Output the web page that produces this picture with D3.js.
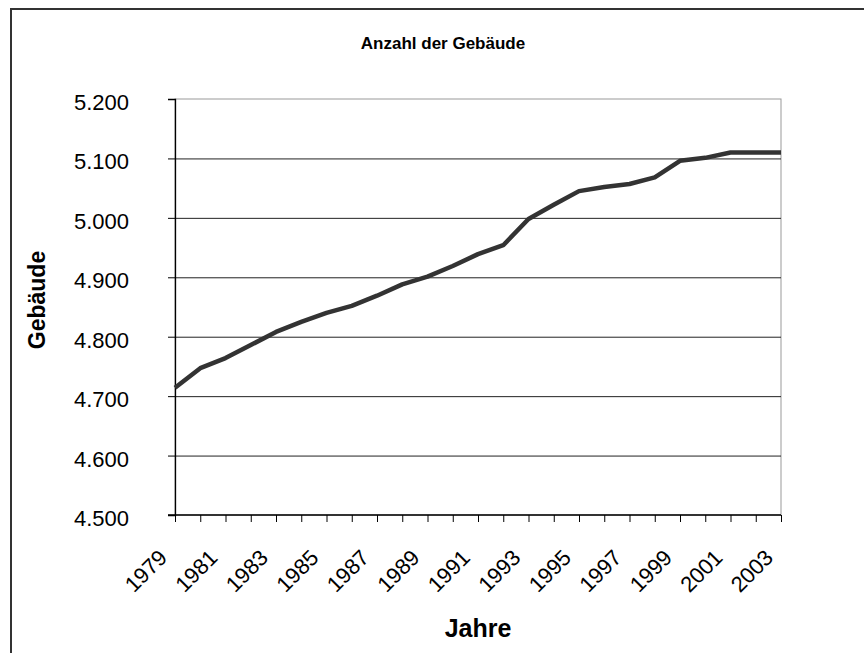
<!DOCTYPE html>
<html><head><meta charset="utf-8">
<script src="https://cdn.jsdelivr.net/npm/d3@7"></script>
<style>body{margin:0;background:#fff;}svg{display:block;font-family:"Liberation Sans",Arial,sans-serif;}</style>
</head><body>
<script>
const years = d3.range(1979, 2004);
const gebaeude = [4714,4747,4764,4786,4808,4825,4840,4852,4869,4888,4901,4919,4939,4954,4998,5022,5045,5052,5057,5068,5096,5101,5110,5110,5110];
const yTicks = [4500,4600,4700,4800,4900,5000,5100,5200];
const xLabelYears = years.filter(y => (y - 1979) % 2 === 0);
const title = "Anzahl der Gebäude", xTitle = "Jahre", yTitle = "Gebäude";

const W = 864, H = 653;
const m = {left:175, right:781, top:99, bottom:515};
const svg = d3.select("body").append("svg").attr("width", W).attr("height", H);

svg.append("rect").attr("x",11).attr("y",9).attr("width",W).attr("height",H)
  .attr("fill","#fff").attr("stroke","#333").attr("stroke-width",2);

const x = d3.scaleLinear().domain([1979,2003]).range([m.left, m.right]);
const y = d3.scaleLinear().domain([4500,5200]).range([m.bottom, m.top]);

// plot border (gray)
svg.append("rect").attr("x",m.left).attr("y",m.top).attr("width",m.right-m.left).attr("height",m.bottom-m.top)
  .attr("fill","none").attr("stroke","#999").attr("stroke-width",1);

// gridlines
svg.append("g").selectAll("line").data(yTicks.filter(v => v>4500 && v<5200)).join("line")
  .attr("x1",m.left).attr("x2",m.right).attr("y1",d=>y(d)+0.5).attr("y2",d=>y(d)+0.5)
  .attr("stroke","#222").attr("stroke-width",1);

// y axis
const yAxis = d3.axisLeft(y).tickValues(yTicks).tickSize(7).tickFormat(d => d3.format(",")(d).replace(",", "."));
const gy = svg.append("g").attr("transform",`translate(${m.left},0)`).call(yAxis);
gy.select(".domain").attr("stroke","#000").attr("stroke-width",1.3);
gy.selectAll(".tick line").attr("stroke","#000");
gy.selectAll(".tick text").attr("x",-46).attr("dy","0.48em").attr("font-size",22).attr("fill","#000")
  .attr("font-family","Liberation Sans, Arial, sans-serif");

// x axis
const xAxis = d3.axisBottom(x).tickValues(years).tickSize(7).tickFormat(d => xLabelYears.includes(d) ? String(d) : "");
const gx = svg.append("g").attr("transform",`translate(0,${m.bottom})`).call(xAxis);
gx.select(".domain").attr("stroke","#000").attr("stroke-width",1.3).attr("d",`M${m.left-7},0H${m.right}`);
gx.selectAll(".tick line").attr("stroke","#000");
gx.selectAll(".tick text").attr("font-size",22).attr("fill","#000").attr("text-anchor","end")
  .attr("font-family","Liberation Sans, Arial, sans-serif")
  .attr("y",0).attr("dy",0).attr("transform","translate(-7,44) rotate(-45)");

// line
svg.append("path").datum(years.map((yr,i)=>[yr,gebaeude[i]]))
  .attr("fill","none").attr("stroke","#333").attr("stroke-width",4.5).attr("stroke-linejoin","round")
  .attr("d", d3.line().x(d=>x(d[0])).y(d=>y(d[1])));

// titles
svg.append("text").attr("x",443).attr("y",49).attr("text-anchor","middle")
  .attr("font-size",17).attr("font-weight","bold").text(title);
svg.append("text").attr("x",478).attr("y",637).attr("text-anchor","middle")
  .attr("font-size",25).attr("font-weight","bold").text(xTitle);
svg.append("text").attr("transform","translate(45,300) rotate(-90)").attr("text-anchor","middle")
  .attr("font-size",23).attr("font-weight","bold").text(yTitle);
</script>
</body></html>
